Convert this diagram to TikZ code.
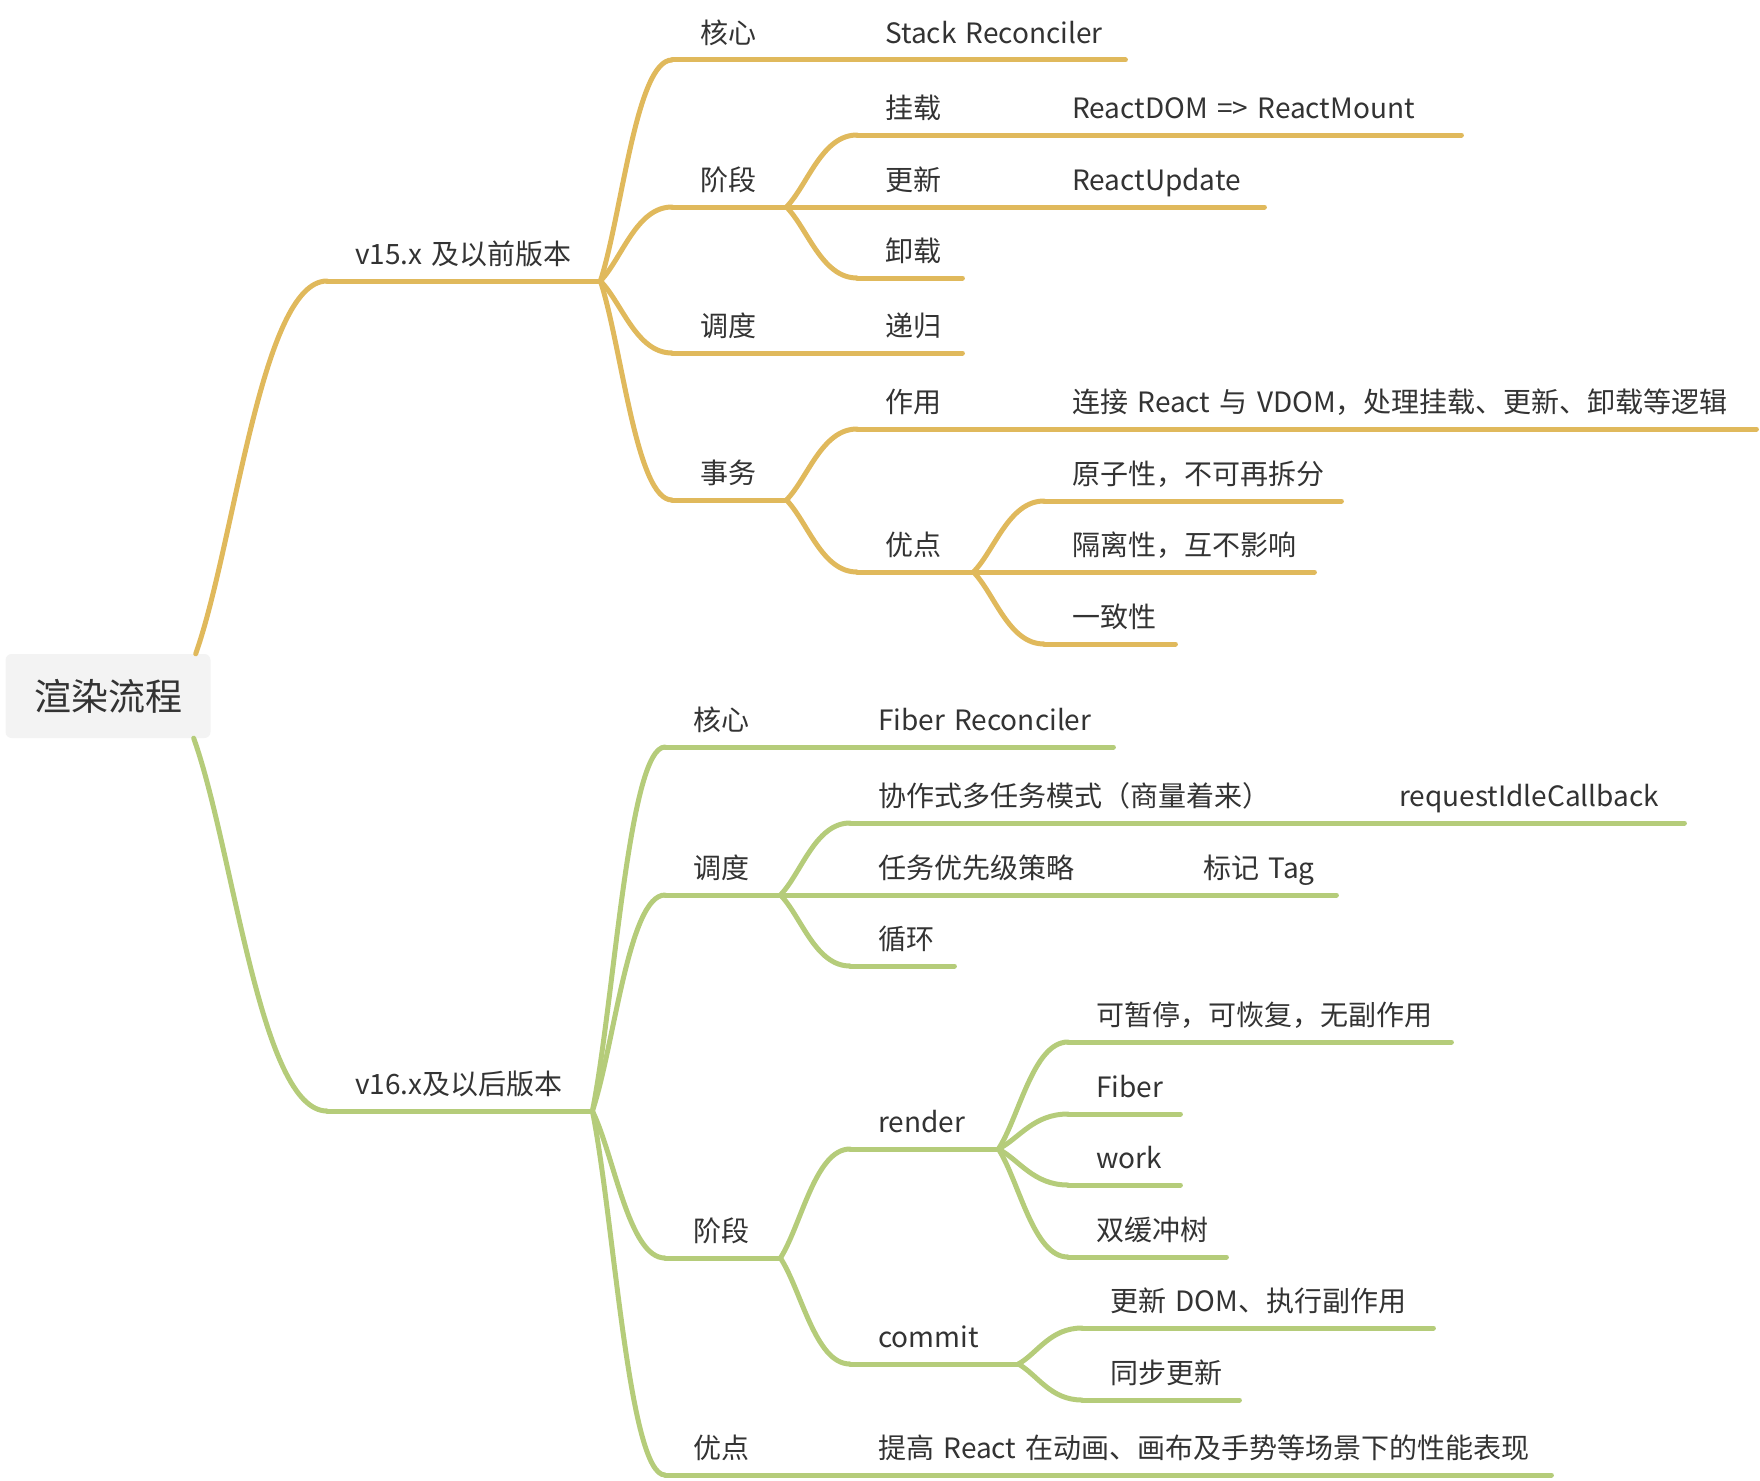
\documentclass[tikz,border=0pt]{standalone}
\usepackage{fontspec}
\setmainfont{Noto Sans CJK SC}
\usetikzlibrary{calc}
\definecolor{ybranch}{RGB}{224,185,92}
\definecolor{gbranch}{RGB}{181,204,122}
\definecolor{rootfill}{RGB}{243,243,243}
\definecolor{inktext}{RGB}{51,51,51}

\begin{document}
\begin{tikzpicture}[x=1pt, y=-1pt]
    % Define styles
    \tikzset{
        root/.style={
            fill=rootfill,
            rounded corners=6pt,
            minimum width=205pt,
            minimum height=84pt,
            text=inktext,
            font=\fontsize{37}{44}\selectfont
        },
        topic/.style={
            anchor=south west,
            inner xsep=0pt,
            inner ysep=9pt,
            text width=#1,
            text depth=7pt,
            align=left,
            text=inktext,
            font=\fontsize{28}{34}\selectfont,
            execute at begin node={\hspace*{28pt}}
        },
        yline/.style={
            draw=ybranch,
            line width=5pt,
            line cap=round
        },
        gline/.style={
            draw=gbranch,
            line width=5pt,
            line cap=round
        },
        branch/.style={
            to path={let \p1=(\tikztostart), \p2=(\tikztotarget) in
                .. controls ({\x1+0.3*(\x2-\x1)},{\y1+0.3*(\y2-\y1)})
                and ({0.5*(\x1+\x2)},\y2) .. (\tikztotarget)}
        }
    }
    \useasboundingbox (0,0) rectangle (1760,1480);

    % Root topic
    \node[root] (root) at (108,696) {渲染流程};

    % v15 branch
    \node[topic=273pt] (v15) at (327,281) {v15.x 及以前版本};
    \node[topic=185pt] (core1) at (672,60) {核心};
    \node[topic=268pt] (stackrec) at (857,60) {Stack Reconciler};
    \node[topic=114pt] (stage1) at (672,207) {阶段};
    \node[topic=187pt] (mount) at (857,135) {挂载};
    \node[topic=417pt] (mountval) at (1044,135) {ReactDOM => ReactMount};
    \node[topic=187pt] (update) at (857,207) {更新};
    \node[topic=220pt] (updateval) at (1044,207) {ReactUpdate};
    \node[topic=105pt] (unmount) at (857,278) {卸载};
    \node[topic=185pt] (sched1) at (672,353) {调度};
    \node[topic=105pt] (recur) at (857,353) {递归};
    \node[topic=114pt] (trans1) at (672,500) {事务};
    \node[topic=187pt] (role) at (857,429) {作用};
    \node[topic=712pt] (roleval) at (1044,429) {连接 React 与 VDOM，处理挂载、更新、卸载等逻辑};
    \node[topic=116pt] (merit1) at (857,572) {优点};
    \node[topic=297pt] (atomic) at (1044,501) {原子性，不可再拆分};
    \node[topic=270pt] (isolate) at (1044,572) {隔离性，互不影响};
    \node[topic=131pt] (consist) at (1044,644) {一致性};

    % v16 branch
    \node[topic=265pt] (v16) at (327,1111) {v16.x及以后版本};
    \node[topic=185pt] (core2) at (665,747) {核心};
    \node[topic=263pt] (fiberrec) at (850,747) {Fiber Reconciler};
    \node[topic=115pt] (sched2) at (665,895) {调度};
    \node[topic=521pt] (coop) at (850,823) {协作式多任务模式（商量着来）};
    \node[topic=313pt] (ric) at (1371,823) {requestIdleCallback};
    \node[topic=325pt] (prio) at (850,895) {任务优先级策略};
    \node[topic=161pt] (tag) at (1175,895) {标记 Tag};
    \node[topic=104pt] (loop) at (850,966) {循环};
    \node[topic=115pt] (stage2) at (665,1258) {阶段};
    \node[topic=148pt] (render) at (850,1149) {render};
    \node[topic=383pt] (pause) at (1068,1042) {可暂停，可恢复，无副作用};
    \node[topic=112pt] (fiber) at (1068,1114) {Fiber};
    \node[topic=112pt] (work) at (1068,1185) {work};
    \node[topic=158pt] (dbl) at (1068,1257) {双缓冲树};
    \node[topic=168pt] (commit) at (850,1364) {commit};
    \node[topic=351pt] (dom) at (1082,1328) {更新 DOM、执行副作用};
    \node[topic=157pt] (sync) at (1082,1400) {同步更新};
    \node[topic=185pt] (merit2) at (665,1475) {优点};
    \node[topic=701pt] (perf) at (850,1475) {提高 React 在动画、画布及手势等场景下的性能表现};

    % Underlines
    \foreach \n in {v15, core1, stackrec, stage1, mount, mountval, update, updateval,
                    unmount, sched1, recur, trans1, role, roleval, merit1, atomic, isolate, consist}
        \draw[yline] (\n.south west) -- (\n.south east);
    \foreach \n in {v16, core2, fiberrec, sched2, coop, ric, prio, tag, loop, stage2,
                    render, pause, fiber, work, dbl, commit, dom, sync, merit2, perf}
        \draw[gline] (\n.south west) -- (\n.south east);

    % Connect parents to children
    \draw[yline] ([xshift=-15pt]root.north east) to[branch] (v15.south west);
    \draw[gline] ([xshift=-17pt]root.south east) to[branch] (v16.south west);
    \foreach \a/\b in {v15/core1, v15/stage1, v15/sched1, v15/trans1, core1/stackrec,
                       stage1/mount, stage1/update, stage1/unmount, mount/mountval,
                       update/updateval, sched1/recur, trans1/role, trans1/merit1,
                       role/roleval, merit1/atomic, merit1/isolate, merit1/consist}
        \draw[yline] (\a.south east) to[branch] (\b.south west);
    \foreach \a/\b in {v16/core2, v16/sched2, v16/stage2, v16/merit2, core2/fiberrec,
                       sched2/coop, sched2/prio, sched2/loop, coop/ric, prio/tag,
                       stage2/render, stage2/commit, render/pause, render/fiber,
                       render/work, render/dbl, commit/dom, commit/sync, merit2/perf}
        \draw[gline] (\a.south east) to[branch] (\b.south west);

\end{tikzpicture}
\end{document}
